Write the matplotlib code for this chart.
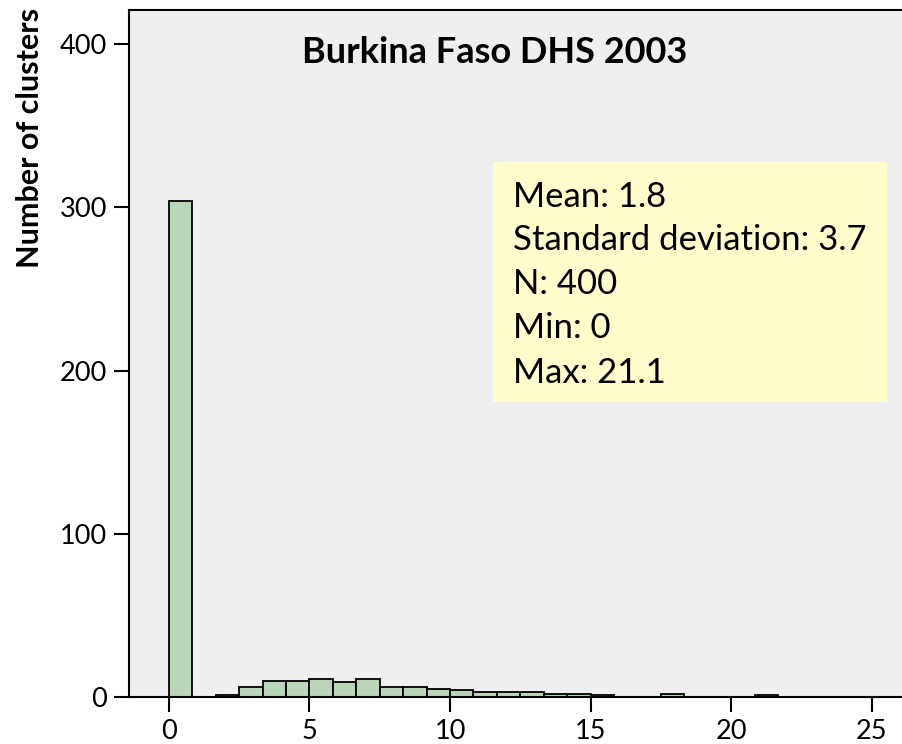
import numpy as np
import matplotlib
matplotlib.use("Agg")
import matplotlib.pyplot as plt
from matplotlib.patches import Rectangle

# histogram of cluster values, 30 bins of width 5/6 starting at 0
bin_width = 5 / 6
counts = [304, 0, 1, 6, 10, 10, 11, 9, 11, 6,
          6, 5, 4, 3, 3, 3, 2, 2, 1, 0,
          0, 2, 0, 0, 0, 1, 0, 0, 0, 0]
title = "Burkina Faso DHS 2003"
stats_lines = ["Mean: 1.8", "Standard deviation: 3.7", "N: 400", "Min: 0", "Max: 21.1"]
xticks = [0, 5, 10, 15, 20, 25]
yticks = [0, 100, 200, 300, 400]

plt.rcParams['font.family'] = ['Lato', 'DejaVu Sans']

W, H = 902, 744
fig = plt.figure(figsize=(W / 100, H / 100), dpi=100)
fig.patch.set_facecolor('white')

# axes in pixel terms: left spine x=129, bottom y=697, top y=10, runs off right edge
ax = fig.add_axes([129 / W, 1 - 697 / H, (W - 129) / W + 0.01, (697 - 10) / H])
ax.set_facecolor('#efefef')

left_edges = np.arange(len(counts)) * bin_width
ax.bar(left_edges, counts, width=bin_width, align='edge',
       color='#bad6b9', edgecolor='black', linewidth=1.3)

ax.set_xlim(-1.42, 26.4)
ax.set_ylim(0, 421)
ax.set_xticks(xticks)
ax.set_yticks(yticks)
ax.tick_params(axis='both', direction='out', length=11, width=1.5, labelsize=19.5, pad=5)
ax.spines['right'].set_visible(False)
for side in ['left', 'bottom', 'top']:
    ax.spines[side].set_linewidth(1.5)

fig.text(30 / W, 1 - 8 / H, 'Number of clusters', rotation=90, ha='center', va='top',
         fontsize=22, fontweight='bold')

fig.text(495 / W, 1 - 63 / H, title, ha='center', va='baseline',
         fontsize=26, fontweight='bold')

# stats box
fig.patches.append(Rectangle((493 / W, 1 - 402 / H), (887 - 493) / W, (402 - 162) / H,
                             transform=fig.transFigure, facecolor='#fffdcb',
                             edgecolor='none', zorder=3))
baselines = [207, 250, 294, 338, 383]
for line, yb in zip(stats_lines, baselines):
    fig.text(513 / W, 1 - yb / H, line, ha='left', va='baseline', fontsize=25, zorder=4)

fig.savefig('out.png', dpi=100)
